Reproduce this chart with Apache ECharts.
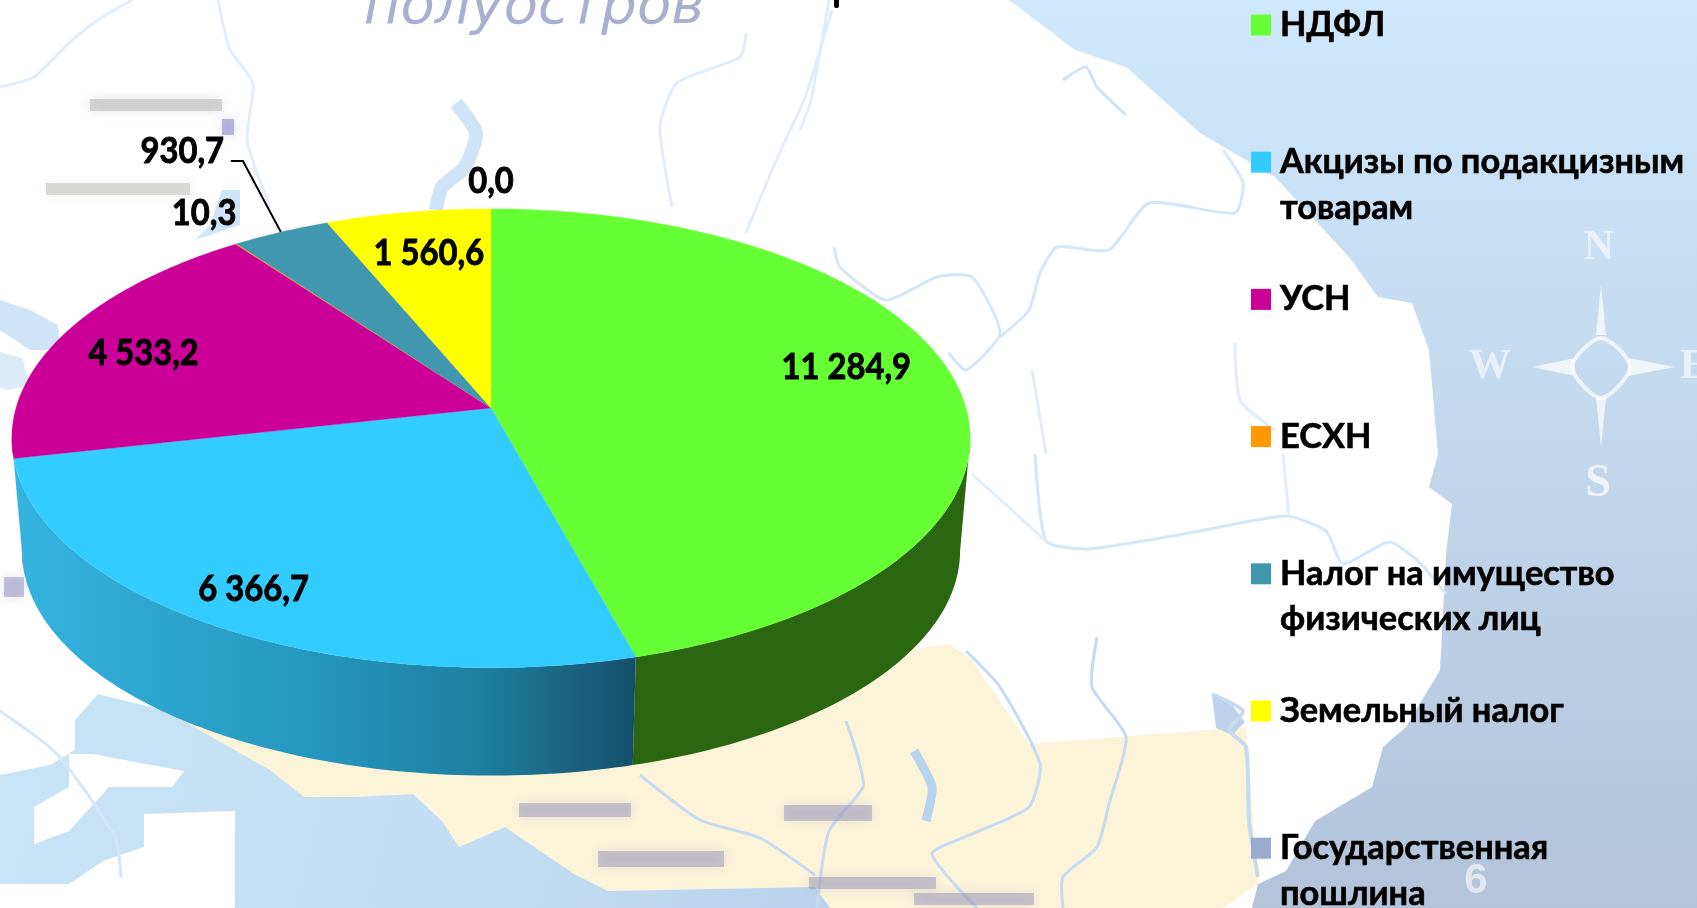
<!DOCTYPE html>
<html><head><meta charset="utf-8">
<style>html,body{margin:0;padding:0;width:100%;height:100%;overflow:hidden;background:#fff}#c{width:1697px;height:908px}</style>
<script src="https://cdn.jsdelivr.net/npm/echarts@6/dist/echarts.min.js"></script>
</head><body><div id="c"></div>
<script>
// ---- data ----
const categories = ['НДФЛ','Акцизы по подакцизным товарам','УСН','ЕСХН','Налог на имущество физических лиц','Земельный налог','Государственная пошлина'];
const legendLines = [['НДФЛ'],['Акцизы по подакцизным','товарам'],['УСН'],['ЕСХН'],['Налог на имущество','физических лиц'],['Земельный налог'],['Государственная','пошлина']];
const values = [11284.9,6366.7,4533.2,10.3,930.7,1560.6,0.0];
const valueLabels = ['11 284,9','6 366,7','4 533,2','10,3','930,7','1 560,6','0,0'];
const colors = ['#66ff33','#33ccff','#cc0099','#ff9900','#4197ae','#ffff00','#9aabd0'];
// ---- styling / layout ----
const FONT = 'Lato, "Open Sans", "Noto Sans", sans-serif';
const LABEL_FS = 37, LABEL_SX = 0.885, LEGEND_FS = 34.4;
const sideColors = ['#2b6611',null,'#660050','#804d00','#204c57','#808000','#4d5568'];
const labelRadial = [0.765,0.848,0.81,1.15,1.5,0.725,1.16];
const labelNudge = [[0,-18],[-8,0],[0,7],[2,-9],[-9,-6],[0,-8],[0,0]];
const TOP = {cx:491,cy:408,a:475,b:225.4,p:0.132};
const BOT = {cx:491,cy:521,a:465,b:221,p:0.132};
const total = values.reduce((s,v)=>s+v,0);
const starts = values.map((_,i)=>values.slice(0,i).reduce((s,v)=>s+v,0));
const ang = v => v/total*Math.PI*2;
// visible range of the cylinder wall (between the two silhouette tangents)
const WALL0 = Math.PI/2+Math.asin(TOP.p), WALL1 = Math.PI*3/2-Math.asin(TOP.p);
function project(P,t,f){
  const u=f*Math.sin(t), v=-f*Math.cos(t), d=1-P.p*v;
  return [P.cx+P.a*u/d, P.cy+P.b*v/d];
}
function rim(P,t0,t1){
  const n=Math.max(2,Math.ceil((t1-t0)/(Math.PI/180))), pts=[];
  for(let k=0;k<=n;k++) pts.push(project(P,t0+(t1-t0)*k/n,1));
  return pts;
}
const cyanSide = new echarts.graphic.LinearGradient(0,0,1,0,[
  {offset:0,color:'#34b4e0'},{offset:.5,color:'#2595bd'},{offset:.75,color:'#1f7f9f'},{offset:1,color:'#144f6b'}]);
function renderSlice(i){
  return function(params,api){
    const val=api.value(0), t0=ang(starts[i]), t1=t0+ang(val), mid=(t0+t1)/2;
    const children=[];
    if(val>0){
      const w0=Math.max(t0,WALL0), w1=Math.min(t1,WALL1);
      if(w0<w1){
        const top=rim(TOP,w0,w1), bot=rim(BOT,w0,w1).reverse();
        children.push({type:'polygon',z2:1-0.5*Math.cos(mid),shape:{points:top.concat(bot)},
          style:{fill:sideColors[i]||cyanSide,stroke:null}});
      }
      children.push({type:'polygon',z2:2,shape:{points:[project(TOP,0,0)].concat(rim(TOP,t0,t1))},
        style:{fill:colors[i],stroke:colors[i],lineWidth:.3}});
    }
    const lp=project(TOP,mid,labelRadial[i]);
    children.push({type:'text',z2:5,x:lp[0]+labelNudge[i][0],y:lp[1]+labelNudge[i][1],scaleX:LABEL_SX,
      style:{x:0,y:0,text:valueLabels[i],fill:'#000',stroke:'#000',lineWidth:.9,font:'bold '+LABEL_FS+'px '+FONT,align:'center',verticalAlign:'middle'}});
    if(i===4){
      const r=project(TOP,mid,1);
      children.push({type:'polyline',z2:1,shape:{points:[[r[0]-50,r[1]-71],[r[0]-38,r[1]-71],r]},
        style:{stroke:'#000',lineWidth:2,fill:null}});
    }
    return {type:'group',children};
  };
}
// ---- background map (decor) ----
const seaFill = new echarts.graphic.LinearGradient(0,0,0,908,[
  {offset:0,color:'#cfe8fb'},{offset:.5,color:'#c2d7ec'},{offset:1,color:'#b2c3da'}],true);
const seaLeft = new echarts.graphic.LinearGradient(0,680,900,908,[
  {offset:0,color:'#c9e3f7'},{offset:.6,color:'#c2dcf1'},{offset:1,color:'#b8cfe8'}],true);
const poly=(pts,fill,extra)=>Object.assign({type:'polygon',z:-5,silent:true,shape:{points:pts},style:Object.assign({fill},extra||{})});
const river=(pts,w,col)=>({type:'polyline',z:-3,silent:true,shape:{points:pts,smooth:.2},style:{stroke:col||'#e1eefa',lineWidth:w||3,fill:null,lineJoin:'round'}});
const smudge=(x,y,w,h,c)=>({type:'rect',z:-2,silent:true,shape:{x:x+4,y:y+3,width:w-8,height:h-6},style:{fill:c||'rgba(160,160,160,.4)',shadowBlur:12,shadowColor:c||'rgba(160,160,160,.7)'}});
const bgText=(x,y,text,col,font)=>({type:'text',z:-2,silent:true,style:{x,y,text,font,fill:col,align:'center',verticalAlign:'middle'}});
const compass='rgba(255,255,255,.7)';
const bg=[
  {type:'rect',z:-6,silent:true,shape:{x:0,y:0,width:1697,height:908},style:{fill:seaFill}},
  poly([[0,0],[1009,0],[1075,50],[1126,67],[1200,133],[1275,177],[1349,257],[1378,297],[1412,303],[1429,350],[1438,454],[1429,487],[1452,504],[1446,554],[1440,670],[1406,727],[1383,747],[1372,787],[1315,821],[1286,871],[1258,884],[1252,908],[0,908]],'#fff'),
  poly([[166,711],[270,770],[304,797],[356,797],[413,794],[442,821],[459,847],[505,827],[574,874],[608,891],[815,887],[830,908],[1223,908],[1258,884],[1246,727],[1029,744],[972,660],[949,644],[908,650],[700,650]],'#fbf4d9'),
  poly([[98,694],[166,711],[270,770],[304,797],[356,797],[413,794],[442,821],[459,847],[505,827],[574,874],[608,891],[815,887],[830,908],[0,908],[0,775],[50,765],[75,750],[75,720]],seaLeft),
  poly([[69,754],[92,754],[184,771],[172,787],[109,787],[69,831],[34,844],[34,807],[69,787]],'#fff'),
  poly([[144,814],[235,811],[235,908],[0,908],[0,884],[69,884],[103,861],[144,847]],'#fff'),
  poly([[0,300],[30,310],[58,325],[60,350],[30,350],[0,330]],'#cfe5f7'),
  poly([[0,352],[22,358],[30,385],[8,390],[0,388]],'#dcebf8'),
  poly([[195,240],[240,225],[240,190],[222,190],[210,225]],'#cfe5f7'),
  river([[218,0],[230,50],[253,83],[247,140],[270,207]]),
  river([[0,87],[34,77],[69,43],[98,20],[132,0]]),
  river([[456,103],[476,133],[465,167],[442,187],[436,210]],14,'#cfe5f7'),
  river([[832,10],[815,67],[804,100],[775,163],[746,233]]),
  river([[746,33],[740,57],[677,83],[660,127],[672,207]]),
  river([[829,0],[811,100],[800,130]]),
  river([[1063,80],[1086,67],[1097,87],[1126,115]],3,'#d0e4f6'),
  river([[834,247],[840,267],[886,300],[937,277],[972,277],[1000,333],[966,370],[949,353]],3,'#d5e7f7'),
  river([[1000,337],[1029,310],[1040,273],[1057,247],[1109,250],[1149,203],[1235,213],[1243,183],[1223,150]],3,'#d5e7f7'),
  river([[1235,343],[1240,400],[1275,430]]),
  river([[1032,370],[1046,454]]),
  river([[1035,454],[1046,541],[1086,549],[1143,541],[1200,531],[1286,516],[1326,531],[1343,564],[1389,542],[1418,561],[1446,594]],3,'#d5e7f7'),
  river([[1283,454],[1289,516]]),
  river([[972,474],[1046,541]]),
  river([[966,651],[1000,687],[1040,764],[1029,807],[972,834],[932,854],[977,908]],3,'#c6dbef'),
  river([[1097,637],[1092,687],[1126,737],[1109,804],[1097,847],[1063,877],[1063,908]],3,'#c6dbef'),
  river([[1212,694],[1243,711],[1229,730],[1246,747],[1249,821],[1258,877]],4,'#c6dbef'),
  river([[846,721],[857,754],[863,787],[829,831],[817,908]],3,'#c6dbef'),
  river([[914,751],[932,787],[926,821]],9,'#b7d3ee'),
  river([[0,711],[57,754],[115,837],[121,877]],3,'#d5e7f7'),
  river([[640,775],[700,820],[760,838],[815,875]],3,'#c6dbef'),
  poly([[1212,694],[1232,705],[1245,722],[1232,735],[1216,728]],'#bdd2ea'),
  smudge(86,96,140,18),smudge(42,180,152,18,'rgba(170,170,160,.4)'),
  smudge(218,116,20,22,'rgba(140,140,200,.6)'),smudge(0,574,28,26,'rgba(140,140,190,.5)'),
  smudge(515,800,120,20,'rgba(150,150,185,.5)'),smudge(780,802,96,22,'rgba(150,150,185,.5)'),
  smudge(594,848,134,22,'rgba(150,150,185,.5)'),smudge(805,874,135,18,'rgba(150,150,185,.5)'),smudge(910,890,128,18,'rgba(150,150,185,.5)'),
  bgText(534,8,'полуостров','#a9afd0','italic 56px "DejaVu Sans"'),
  {type:'rect',z:-1,silent:true,shape:{x:834,y:-2,width:5,height:10,r:2},style:{fill:'#000'}},
  {type:'polygon',z:-2,silent:true,shape:{points:[[1601,338],[1630,367],[1601,398],[1572,367]],smooth:.3},style:{fill:null,stroke:compass,lineWidth:4}},
  {type:'polygon',z:-2,silent:true,shape:{points:[[1601,285],[1606,335],[1596,335]]},style:{fill:compass}},
  {type:'polygon',z:-2,silent:true,shape:{points:[[1601,447],[1606,398],[1596,398]]},style:{fill:compass}},
  {type:'polygon',z:-2,silent:true,shape:{points:[[1532,367],[1575,358],[1575,376]]},style:{fill:compass}},
  {type:'polygon',z:-2,silent:true,shape:{points:[[1675,367],[1628,358],[1628,376]]},style:{fill:compass}},
  bgText(1599,248,'N','rgba(255,255,255,.6)','bold 42px "Liberation Serif"'),
  bgText(1490,367,'W','rgba(255,255,255,.6)','bold 42px "Liberation Serif"'),
  bgText(1598,484,'S','rgba(255,255,255,.7)','bold 46px "Liberation Serif"'),
  bgText(1694,367,'E','rgba(255,255,255,.6)','bold 42px "Liberation Serif"'),
  bgText(1476,881,'6','rgba(255,255,255,.6)','bold 42px "Liberation Sans"')
];
// ---- chart ----
const LEGEND_Y0=25, LEGEND_STEP=137.2, LH=45.5;
const chart=echarts.init(document.getElementById('c'),null,{renderer:'canvas'});
chart.setOption({
  animation:false,
  graphic:{elements:bg},
  legend:categories.map((name,i)=>{
    const two=legendLines[i].length>1;
    return {data:[name],orient:'vertical',left:1251,top:LEGEND_Y0+LEGEND_STEP*i-(two?LH*1.5:LH/2),padding:0,
      selectedMode:false,icon:'rect',itemWidth:20,itemHeight:21,
      formatter:()=>two?'\u00A0\n'+legendLines[i].join('\n'):legendLines[i][0],
      textStyle:{fontFamily:FONT,fontWeight:'bold',fontSize:LEGEND_FS,color:'#000',lineHeight:LH,padding:[0,0,0,4],textBorderColor:'#000',textBorderWidth:.6}};
  }),
  series:categories.map((name,i)=>({
    type:'custom',name,coordinateSystem:'none',data:[[values[i]]],
    itemStyle:{color:colors[i]},renderItem:renderSlice(i),silent:true,clip:false,
    encode:{value:0}
  }))
});
</script></body></html>
